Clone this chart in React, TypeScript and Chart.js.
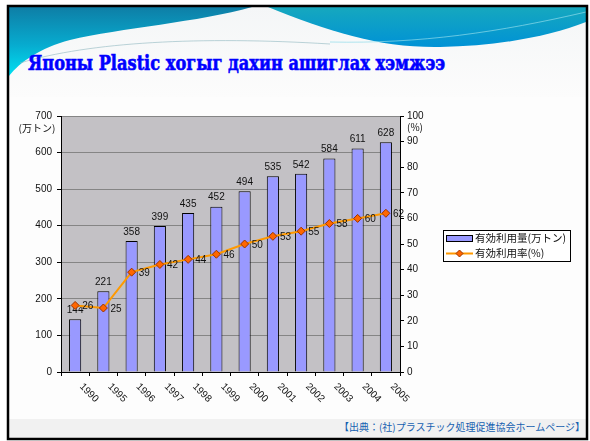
import React, { useEffect, useRef } from 'react';
import { Chart, registerables } from 'chart.js';

Chart.register(...registerables);

const years = ['1990', '1995', '1996', '1997', '1998', '1999', '2000', '2001', '2002', '2003', '2004', '2005'];
const amountValues = [144, 221, 358, 399, 435, 452, 494, 535, 542, 584, 611, 628];
const rateValues = [26, 25, 39, 42, 44, 46, 50, 53, 55, 58, 60, 62];
const amountLabel = '有効利用量(万トン)';
const rateLabel = '有効利用率(%)';
const leftUnit = '(万トン)';
const rightUnit = '(%)';
const titleText = 'Японы Plastic хогыг дахин ашиглах хэмжээ';
const sourceText = '【出典：(社)プラスチック処理促進協会ホームページ】';

const BAR_FILL = '#9999FF';
const LINE_COLOR = '#FF9900';
const MARKER_FILL = '#FF6600';
const MARKER_BORDER = '#993300';
const TICK_FONT = "'Liberation Sans', Arial, sans-serif";
const CJK_FONT = "'Noto Sans CJK JP', sans-serif";

function diamond(ctx: CanvasRenderingContext2D, x: number, y: number, r: number) {
  ctx.beginPath();
  ctx.moveTo(x, y - r);
  ctx.lineTo(x + r, y);
  ctx.lineTo(x, y + r);
  ctx.lineTo(x - r, y);
  ctx.closePath();
  ctx.fillStyle = MARKER_FILL;
  ctx.fill();
  ctx.strokeStyle = MARKER_BORDER;
  ctx.lineWidth = 1;
  ctx.stroke();
}

const plotBg = {
  id: 'plotBg',
  beforeDraw(chart: any) {
    const { ctx, chartArea: a } = chart;
    ctx.save();
    ctx.fillStyle = '#C3C1C5';
    ctx.fillRect(a.left, a.top, a.right - a.left, a.bottom - a.top);
    ctx.restore();
  },
};

const valueLabels = {
  id: 'valueLabels',
  afterDatasetDraw(chart: any, args: any) {
    const { ctx } = chart;
    const meta = chart.getDatasetMeta(args.index);
    ctx.save();
    ctx.fillStyle = '#111';
    ctx.font = `10px ${TICK_FONT}`;
    if (args.index === 0) {
      ctx.textAlign = 'center';
      ctx.textBaseline = 'bottom';
      meta.data.forEach((el: any, i: number) => {
        ctx.fillText(String(amountValues[i]), el.x, el.y - 4);
      });
    } else {
      ctx.textAlign = 'left';
      ctx.textBaseline = 'middle';
      meta.data.forEach((el: any, i: number) => {
        ctx.fillText(String(rateValues[i]), el.x + 7, el.y + 1);
      });
    }
    ctx.restore();
  },
};

const extras = {
  id: 'extras',
  afterDraw(chart: any) {
    const { ctx, chartArea: a } = chart;
    const xs = chart.scales.x;
    ctx.save();
    ctx.fillStyle = '#111';
    ctx.font = `10px ${TICK_FONT}`;
    ctx.textAlign = 'left';
    ctx.textBaseline = 'middle';
    years.forEach((lab, i) => {
      const x = xs.getPixelForTick(i);
      ctx.save();
      ctx.translate(x + 6, a.bottom + 13);
      ctx.rotate(Math.PI / 4);
      ctx.fillText(lab, 0, 0);
      ctx.restore();
    });
    ctx.font = `10px ${CJK_FONT}`;
    ctx.textAlign = 'center';
    ctx.fillText(leftUnit, a.left - 24, a.top + 12);
    ctx.textAlign = 'left';
    ctx.fillText(rightUnit, a.right + 7, a.top + 11);
    const lx = 433, ly = 140, lw = 127, lh = 31;
    ctx.fillStyle = '#fff';
    ctx.fillRect(lx, ly, lw, lh);
    ctx.strokeStyle = '#000';
    ctx.lineWidth = 1;
    ctx.strokeRect(lx + 0.5, ly + 0.5, lw, lh);
    ctx.fillStyle = BAR_FILL;
    ctx.fillRect(lx + 3, ly + 5, 26, 6);
    ctx.strokeStyle = '#000';
    ctx.strokeRect(lx + 3.5, ly + 5.5, 26, 6);
    ctx.strokeStyle = LINE_COLOR;
    ctx.lineWidth = 2;
    ctx.beginPath();
    ctx.moveTo(lx + 3, ly + 23.5);
    ctx.lineTo(lx + 30, ly + 23.5);
    ctx.stroke();
    diamond(ctx, lx + 16.5, ly + 23.5, 3.5);
    ctx.fillStyle = '#111';
    ctx.font = `10.5px ${CJK_FONT}`;
    ctx.textAlign = 'left';
    ctx.textBaseline = 'middle';
    ctx.fillText(amountLabel, lx + 32, ly + 8.5);
    ctx.fillText(rateLabel, lx + 32, ly + 23.5);
    ctx.restore();
  },
};

function ChartBox() {
  const ref = useRef<HTMLCanvasElement | null>(null);
  useEffect(() => {
    if (!ref.current) return;
    const chart = new Chart(ref.current, {
      data: {
        labels: years,
        datasets: [
          {
            type: 'bar',
            label: amountLabel,
            data: amountValues,
            backgroundColor: BAR_FILL,
            borderColor: '#000',
            borderWidth: 1,
            yAxisID: 'y',
            order: 1,
            barPercentage: 0.43,
            categoryPercentage: 1,
          } as any,
          {
            type: 'line',
            label: rateLabel,
            data: rateValues,
            borderColor: LINE_COLOR,
            borderWidth: 2,
            tension: 0,
            pointStyle: 'rectRot',
            pointRadius: 4,
            pointBackgroundColor: MARKER_FILL,
            pointBorderColor: MARKER_BORDER,
            pointBorderWidth: 1,
            yAxisID: 'y2',
            order: 0,
          } as any,
        ],
      },
      options: {
        responsive: false,
        animation: false,
        devicePixelRatio: 1,
        layout: { padding: { left: 0, top: 26, right: 145, bottom: 36 } },
        plugins: { legend: { display: false }, tooltip: { enabled: false }, title: { display: false } },
        scales: {
          x: {
            offset: true,
            grid: { offset: true, drawOnChartArea: false, tickLength: 4, tickColor: '#000' },
            border: { color: '#000', width: 1 },
            ticks: { display: false },
            afterFit: (s: any) => { s.height = 10; },
          },
          y: {
            position: 'left',
            min: 0,
            max: 700,
            ticks: { stepSize: 100, color: '#111', padding: 5, font: { family: TICK_FONT, size: 10 } },
            grid: { color: '#858585', tickColor: '#000', tickLength: 4 },
            border: { color: '#000', width: 1 },
            afterFit: (s: any) => { s.width = 51; },
          },
          y2: {
            position: 'right',
            min: 0,
            max: 100,
            ticks: { stepSize: 10, color: '#111', padding: 3, font: { family: TICK_FONT, size: 10 } },
            grid: { drawOnChartArea: false, tickColor: '#000', tickLength: 4 },
            border: { color: '#000', width: 1 },
            afterFit: (s: any) => { s.width = 40; },
          },
        },
      } as any,
      plugins: [plotBg, valueLabels, extras],
    });
    return () => chart.destroy();
  }, []);
  return (
    <canvas
      ref={ref}
      width={575}
      height={328}
      style={{ position: 'absolute', left: 10, top: 90, width: 575, height: 328 }}
    />
  );
}

export default function App() {
  return (
    <div style={{ position: 'absolute', left: 0, top: 0, width: 590, height: 441, overflow: 'hidden', background: '#fff' }}>
      <svg width={590} height={441} style={{ position: 'absolute', left: 0, top: 0 }}>
        <defs>
          <linearGradient id="lg" x1="0" y1="0" x2="0" y2="1">
            <stop offset="0" stopColor="#0E7EA6" />
            <stop offset="0.55" stopColor="#07ABCF" />
            <stop offset="1" stopColor="#00E0F2" />
          </linearGradient>
          <linearGradient id="rg" x1="0" y1="0" x2="0" y2="1">
            <stop offset="0" stopColor="#16A8BE" />
            <stop offset="1" stopColor="#0092D6" />
          </linearGradient>
          <linearGradient id="bg" x1="0" y1="0" x2="0" y2="1">
            <stop offset="0" stopColor="#F4F6F7" />
            <stop offset="1" stopColor="#FCFCFC" />
          </linearGradient>
        </defs>
        <rect x={9} y={7} width={577} height={431} fill="#FDFDFD" />
        <rect x={9} y={7} width={577} height={90} fill="url(#bg)" />
        <path d="M9,7 L252,7 C200,22 120,28 70,40 C40,48 20,62 9,76 Z" fill="url(#lg)" />
        <path d="M268,7 L586,7 L586,22 C550,36 500,46 440,47 C380,48 330,32 268,7 Z" fill="url(#rg)" />
        <path d="M20,63 C90,42 200,36 330,44" stroke="#8FB8C0" strokeWidth={1} fill="none" opacity={0.6} />
        <path d="M330,42 C420,44 500,32 586,12" stroke="#8FDCEA" strokeWidth={1} fill="none" opacity={0.7} />
        <rect x={9} y={419} width={577} height={19} fill="#F1F1F1" />
        <rect x={8} y={6} width={579} height={433} fill="none" stroke="#000" strokeWidth={2.5} />
      </svg>
      <div
        style={{
          position: 'absolute',
          left: 28,
          top: 52,
          fontFamily: "'DejaVu Serif', serif",
          fontWeight: 'bold',
          fontSize: 20,
          lineHeight: '22px',
          color: '#0000FF',
          WebkitTextStroke: '0.6px #0000FF',
          whiteSpace: 'nowrap',
          transformOrigin: 'left center',
          transform: 'scaleX(0.81)',
        }}
      >
        {titleText}
      </div>
      <ChartBox />
      <div
        style={{
          position: 'absolute',
          right: 5,
          top: 420,
          fontFamily: CJK_FONT,
          fontSize: 10,
          lineHeight: '14px',
          color: '#1560B0',
          whiteSpace: 'nowrap',
        }}
      >
        {sourceText}
      </div>
    </div>
  );
}
